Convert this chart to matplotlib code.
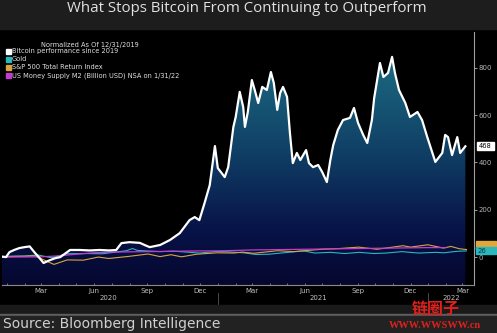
import numpy as np
import pandas as pd
import matplotlib
matplotlib.use("Agg")
import matplotlib.pyplot as plt
import matplotlib.dates as mdates
from matplotlib.colors import LinearSegmentedColormap
from matplotlib.patches import Rectangle

plt.rcParams['font.family'] = ['DejaVu Sans', 'Noto Sans CJK SC']

# --- data (percent change since 12/31/2019) ---
btc_dates = ["2019-12-24", "2019-12-31", "2020-01-06", "2020-01-14", "2020-01-23", "2020-02-01",
             "2020-02-10", "2020-02-18", "2020-02-27", "2020-03-05", "2020-03-16", "2020-03-25",
             "2020-04-03", "2020-04-20", "2020-05-07", "2020-05-24", "2020-06-10", "2020-06-27",
             "2020-07-09", "2020-07-18", "2020-08-01", "2020-08-19", "2020-08-28", "2020-09-05",
             "2020-09-23", "2020-10-10", "2020-10-27", "2020-11-05", "2020-11-13", "2020-11-22",
             "2020-11-30", "2020-12-09", "2020-12-18", "2020-12-27", "2021-01-01", "2021-01-13",
             "2021-01-19", "2021-01-28", "2021-02-01", "2021-02-08", "2021-02-14", "2021-02-17",
             "2021-02-22", "2021-03-01", "2021-03-06", "2021-03-12", "2021-03-19", "2021-03-27",
             "2021-04-03", "2021-04-08", "2021-04-14", "2021-04-19", "2021-04-24", "2021-05-01",
             "2021-05-06", "2021-05-11", "2021-05-18", "2021-05-24", "2021-06-03", "2021-06-08",
             "2021-06-15", "2021-06-24", "2021-07-01", "2021-07-09", "2021-07-15", "2021-07-20",
             "2021-07-28", "2021-08-06", "2021-08-18", "2021-08-25", "2021-09-01", "2021-09-10",
             "2021-09-17", "2021-09-25", "2021-09-29", "2021-10-09", "2021-10-15", "2021-10-23",
             "2021-10-30", "2021-11-04", "2021-11-11", "2021-11-22", "2021-11-30", "2021-12-13",
             "2021-12-21", "2021-12-30", "2022-01-13", "2022-01-25", "2022-01-30", "2022-02-04",
             "2022-02-11", "2022-02-20", "2022-02-25", "2022-03-06"]
btc_vals = [2, 0, 21, 30, 38, 42,
            45, 21, -4, -25, -13, -5,
            0, 30, 30, 28, 30, 28,
            30, 59, 63, 60, 50, 42,
            51, 72, 101, 130, 156, 169,
            156, 228, 304, 469, 376, 338,
            380, 550, 592, 698, 634, 550,
            613, 748, 706, 651, 719, 706,
            782, 736, 622, 693, 719, 677,
            524, 397, 440, 410, 452, 397,
            380, 389, 359, 317, 410, 473,
            537, 579, 588, 630, 567, 516,
            482, 579, 672, 820, 761, 778,
            846, 778, 706, 651, 592, 613,
            579, 507, 402, 440, 516, 507,
            431, 507, 440, 468]

gold_dates = ["2019-12-24", "2020-01-08", "2020-02-01", "2020-02-24", "2020-03-19", "2020-04-14",
              "2020-05-18", "2020-06-15", "2020-07-27", "2020-08-06", "2020-08-15", "2020-09-23",
              "2020-10-15", "2020-11-09", "2020-11-30", "2020-12-31", "2021-01-20", "2021-02-15",
              "2021-03-08", "2021-03-30", "2021-04-20", "2021-05-25", "2021-06-01", "2021-06-18",
              "2021-07-15", "2021-08-09", "2021-09-03", "2021-09-29", "2021-10-20", "2021-11-16",
              "2021-12-15", "2022-01-14", "2022-01-28", "2022-02-14", "2022-02-24", "2022-03-08"]
gold_vals = [-1, 4, 4, 9, -3, 14,
             15, 14, 27, 36, 28, 23,
             25, 21, 17, 24, 22, 18,
             11, 12, 17, 25, 25, 17,
             20, 15, 20, 15, 17, 23,
             17, 20, 18, 23, 25, 26]

spx_dates = ["2019-12-24", "2020-01-17", "2020-02-19", "2020-03-23", "2020-04-15", "2020-05-13",
             "2020-06-08", "2020-06-26", "2020-07-31", "2020-09-02", "2020-09-23", "2020-10-12",
             "2020-10-30", "2020-11-25", "2020-12-31", "2021-01-29", "2021-02-12", "2021-03-04",
             "2021-04-15", "2021-05-12", "2021-06-30", "2021-07-30", "2021-09-02", "2021-10-04",
             "2021-11-18", "2021-12-01", "2021-12-31", "2022-01-27", "2022-02-09", "2022-02-24",
             "2022-03-08"]
spx_vals = [0, 3, 5, -31, -12, -13,
            0, -6, 3, 13, 2, 10,
            1, 12, 18, 17, 21, 16,
            27, 23, 33, 36, 42, 33,
            48, 42, 52, 38, 45, 35,
            32]

m2_dates = ["2019-12-31", "2020-01-31", "2020-02-29", "2020-03-31", "2020-04-30", "2020-05-31",
            "2020-06-30", "2020-07-31", "2020-08-31", "2020-09-30", "2020-10-31", "2020-11-30",
            "2020-12-31", "2021-01-31", "2021-02-28", "2021-03-31", "2021-04-30", "2021-05-31",
            "2021-06-30", "2021-07-31", "2021-08-31", "2021-09-30", "2021-10-31", "2021-11-30",
            "2021-12-31", "2022-01-31"]
m2_vals = [0, 0.5, 1, 5, 12, 18,
           21, 22, 23, 24, 25, 26,
           26, 28, 30, 31, 32, 33,
           34, 35, 36, 37, 38, 39,
           40, 40]

legend_title = "Normalized As Of 12/31/2019"
legend_labels = ["Bitcoin performance since 2019", "Gold", "S&P 500 Total Return Index",
                 "US Money Supply M2 (Billion USD) NSA on 1/31/22"]
legend_colors = ["#ffffff", "#2ab7bd", "#d9a441", "#c13ccf"]

W, H = 497, 333


def fx(x):
    return x / W


def fy(y):
    return 1 - y / H


fig = plt.figure(figsize=(W / 100, H / 100), dpi=100, facecolor="#000000")

# title bar and footer strip
fig.patches.append(Rectangle((0, fy(29)), 1, 29 / H, transform=fig.transFigure, color="#1d1d1d", zorder=0))
fig.patches.append(Rectangle((0, 0), 1, fy(305), transform=fig.transFigure, color="#1a1a1a", zorder=0))
fig.patches.append(Rectangle((0, fy(315)), 1, 1.5 / H, transform=fig.transFigure, color="#5e5e5e", zorder=0))
fig.patches.append(Rectangle((0, 0), 1, fy(315.5), transform=fig.transFigure, color="#222222", zorder=0))

fig.text(0.497, fy(9), "What Stops Bitcoin From Continuing to Outperform", ha="center", va="center",
         fontsize=10.8, color="#e2e2e2", family="Open Sans")
fig.text(fx(3), fy(324), "Source: Bloomberg Intelligence", ha="left", va="center",
         fontsize=10, color="#d0d0d0", family=["Liberation Sans Narrow", "DejaVu Sans"])

ax = fig.add_axes([fx(2), fy(285), (474 - 2) / W, (285 - 32) / H])
ax.set_facecolor("#000000")

btc_x = pd.to_datetime(btc_dates)
ymin, ymax = -118, 951
ax.set_ylim(ymin, ymax)
xmin, xmax = pd.Timestamp("2019-12-24"), pd.Timestamp("2022-03-21")
ax.set_xlim(xmin, xmax)

# gradient fill under bitcoin
poly = ax.fill_between(btc_x, btc_vals, ymin, color="none", lw=0)
cmap = LinearSegmentedColormap.from_list("bb", [(0.0, "#05072f"), (0.22, "#081348"),
                                                (0.5, "#0f3c63"), (1.0, "#1f7689")])
grad = np.linspace(0, 1, 256).reshape(-1, 1)
img = ax.imshow(grad, cmap=cmap, aspect="auto", origin="lower",
                extent=[mdates.date2num(xmin), mdates.date2num(xmax), ymin, ymax], zorder=1)
img.set_clip_path(poly.get_paths()[0], transform=ax.transData)

ax.plot(btc_x, btc_vals, color="#ffffff", lw=1.6, zorder=5)
ax.plot(pd.to_datetime(gold_dates), gold_vals, color=legend_colors[1], lw=0.8, zorder=4)
ax.plot(pd.to_datetime(spx_dates), spx_vals, color=legend_colors[2], lw=0.8, zorder=4)
ax.plot(pd.to_datetime(m2_dates), m2_vals, color=legend_colors[3], lw=0.9, zorder=4)

# axes styling
for s in ["top", "left"]:
    ax.spines[s].set_visible(False)
ax.spines["right"].set_color("#a0a0a0")
ax.spines["bottom"].set_color("#8a8a8a")
ax.yaxis.tick_right()
ax.set_yticks([0, 200, 400, 600, 800])
ax.tick_params(axis="y", colors="#b5b5b5", labelsize=5, length=2, pad=1.5, width=0.6)
ax.xaxis.set_major_locator(mdates.MonthLocator(bymonth=[3, 6, 9, 12]))
ax.xaxis.set_major_formatter(mdates.DateFormatter("%b"))
ax.xaxis.set_minor_locator(mdates.MonthLocator())
ax.tick_params(axis="x", which="both", direction="in", length=1.5, colors="#8a8a8a", width=0.6)
ax.tick_params(axis="x", labelsize=5, labelcolor="#c0c0c0", pad=2)

# year labels below months
years = [("2020", "2020-06-25"), ("2021", "2021-06-24"), ("2022", "2022-02-10")]
for lab, d in years:
    ax.text(pd.Timestamp(d), -0.052, lab, transform=ax.get_xaxis_transform(), ha="center", va="center",
            fontsize=5, color="#c0c0c0", clip_on=False, zorder=1)
for d in ["2021-01-01", "2022-01-01"]:
    ax.plot([pd.Timestamp(d)] * 2, [-0.03, -0.08], transform=ax.get_xaxis_transform(),
            color="#555555", lw=0.6, clip_on=False)

# legend block
fig.text(fx(90), fy(45), legend_title, ha="center", va="center", fontsize=4.8, color="#e0e0e0")
for i, (lab, col) in enumerate(zip(legend_labels, legend_colors)):
    yy = 51 + i * 8.2
    fig.patches.append(Rectangle((fx(6), fy(yy + 2.5)), 5 / W, 5 / H, transform=fig.transFigure,
                                 color=col, zorder=3))
    fig.text(fx(12), fy(yy), lab, ha="left", va="center", fontsize=4.8, color="#e0e0e0")

# right side last-value labels (boxes in figure pixels, values from the data)
def tag_y(v):
    return 285 - (v - ymin) / (ymax - ymin) * (285 - 32)


yb = tag_y(btc_vals[-1])
fig.patches.append(Rectangle((fx(477), fy(yb + 4)), 17 / W, 8 / H, transform=fig.transFigure,
                             color="#ffffff", zorder=3))
fig.text(fx(485.5), fy(yb), str(btc_vals[-1]), ha="center", va="center", fontsize=4.8, color="#000000")
yo = tag_y(spx_vals[-1]) - 4
fig.patches.append(Rectangle((fx(476), fy(yo + 4)), 20 / W, 8 / H, transform=fig.transFigure,
                             color="#e0a83a", zorder=3))
yg = tag_y(gold_vals[-1])
fig.patches.append(Rectangle((fx(476), fy(yg + 3.5)), 20 / W, 7 / H, transform=fig.transFigure,
                             color="#2ab7bd", zorder=4))
fig.text(fx(478), fy(yg), str(gold_vals[-1]), ha="left", va="center", fontsize=5, color="#0a3a40",
         zorder=5)

# watermark
fig.text(fx(436), fy(309), "链圈子", ha="center", va="center", fontsize=11.5, color="#e0201c",
         family="Noto Sans CJK SC", weight="bold")
fig.text(fx(435), fy(326), "WWW.WWSWW.cn", ha="center", va="center", fontsize=7.5, color="#e0201c",
         family="Liberation Serif", weight="bold")

fig.savefig("out.png", dpi=100, facecolor=fig.get_facecolor())
